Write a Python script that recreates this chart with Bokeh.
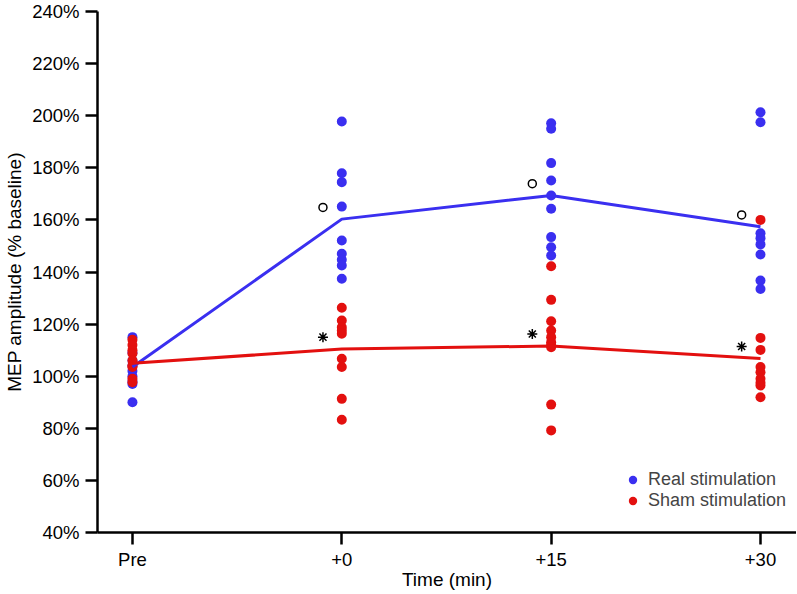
from bokeh.plotting import figure
from bokeh.models import Range1d, FixedTicker, PrintfTickFormatter, Legend, LegendItem
from bokeh.embed import file_html
from bokeh.resources import INLINE

# ---- data ----
time_labels = ["Pre", "+0", "+15", "+30"]
y_ticks = [40, 60, 80, 100, 120, 140, 160, 180, 200, 220, 240]

real_pre = [115, 109, 106, 104, 102, 100, 98, 97, 90]
real_0 = [197.8, 177.9, 174.5, 165.1, 152.1, 147.0, 144.7, 142.5, 137.4]
real_15 = [197.1, 195.0, 181.8, 175.1, 169.4, 164.3, 153.4, 149.5, 146.3]
real_30 = [201.3, 197.5, 154.9, 153.0, 150.6, 146.7, 136.7, 133.5]

sham_pre = [114, 112, 110, 108.7, 106, 104, 103.5, 99, 97.7]
sham_0 = [126.3, 121.4, 118.8, 117.5, 116.3, 106.7, 103.5, 91.3, 83.3]
sham_15 = [142.2, 129.3, 121.1, 117.5, 115.0, 113.0, 112.0, 111.1, 89.1, 79.2]
sham_30 = [160.0, 114.7, 110.1, 103.5, 101.5, 99.0, 97.5, 96.4, 91.9]

real_mean = [103.5, 160.3, 169.4, 157.4]
sham_mean = [105.0, 110.4, 111.6, 106.8]

# significance marks at +0, +15, +30 (open circle = real, asterisk = sham)
sig_times = [1, 2, 3]

BLUE = "#3a2ff0"
RED = "#e3100f"
FONT = "Liberation Sans"

p = figure(frame_width=699, frame_height=521, output_backend="svg", toolbar_location=None,
           x_range=Range1d(-0.167, 3.172), y_range=Range1d(40, 240),
           min_border_left=97, min_border_right=0, min_border_top=11, min_border_bottom=61)
p.outline_line_color = None
p.xgrid.visible = False
p.ygrid.visible = False
p.background_fill_color = "white"
p.border_fill_color = "white"

def flat(groups):
    xs, ys = [], []
    for i, g in enumerate(groups):
        xs += [i] * len(g)
        ys += list(g)
    return xs, ys

rx, ry = flat([real_pre, real_0, real_15, real_30])
sx, sy = flat([sham_pre, sham_0, sham_15, sham_30])

r_real = p.scatter(rx, ry, size=10, color=BLUE, line_color=None)
r_sham = p.scatter(sx, sy, size=10, color=RED, line_color=None)

p.line([0, 1, 2, 3], real_mean, line_width=3, color=BLUE)
p.line([0, 1, 2, 3], sham_mean, line_width=3, color=RED)

off_x = -0.09
p.scatter([t + off_x for t in sig_times], [real_mean[t] + 4.5 for t in sig_times],
          marker="circle", size=8, fill_color=None, line_color="black", line_width=1.5)
p.scatter([t + off_x for t in sig_times], [sham_mean[t] + 4.6 for t in sig_times],
          marker="asterisk", size=10, line_color="black", line_width=1.5)

# axes
p.xaxis.ticker = FixedTicker(ticks=list(range(len(time_labels))))
p.xaxis.major_label_overrides = {i: lab for i, lab in enumerate(time_labels)}
p.yaxis.ticker = FixedTicker(ticks=y_ticks)
p.yaxis.formatter = PrintfTickFormatter(format="%d%%")
for ax in (p.xaxis, p.yaxis):
    ax.axis_line_width = 2.5
    ax.axis_line_color = "black"
    ax.major_tick_line_width = 2.5
    ax.major_tick_line_color = "black"
    ax.major_tick_out = 12
    ax.major_tick_in = 0
    ax.minor_tick_line_color = None
    ax.major_label_text_font = FONT
    ax.major_label_text_font_size = "18.5px"
    ax.major_label_text_color = "black"
    ax.axis_label_text_font = FONT
    ax.axis_label_text_font_size = "19px"
    ax.axis_label_text_font_style = "normal"
    ax.axis_label_text_color = "black"
p.xaxis.axis_label = "Time (min)"
p.yaxis.axis_label = "MEP amplitude (% baseline)"
p.xaxis.major_label_standoff = 4
p.xaxis.axis_label_standoff = -4
p.yaxis.major_label_standoff = 6
p.yaxis.axis_label_standoff = 4

legend = Legend(items=[LegendItem(label="Real stimulation", renderers=[r_real]),
                       LegendItem(label="Sham stimulation", renderers=[r_sham])],
                location=(523, 21), padding=0, margin=0, spacing=0,
                glyph_width=25, glyph_height=21, label_standoff=3, label_height=18,
                label_text_font=FONT, label_text_font_size="18px",
                border_line_color=None, background_fill_alpha=0)
p.add_layout(legend)

open("out.html", "w").write(file_html(p, INLINE))
